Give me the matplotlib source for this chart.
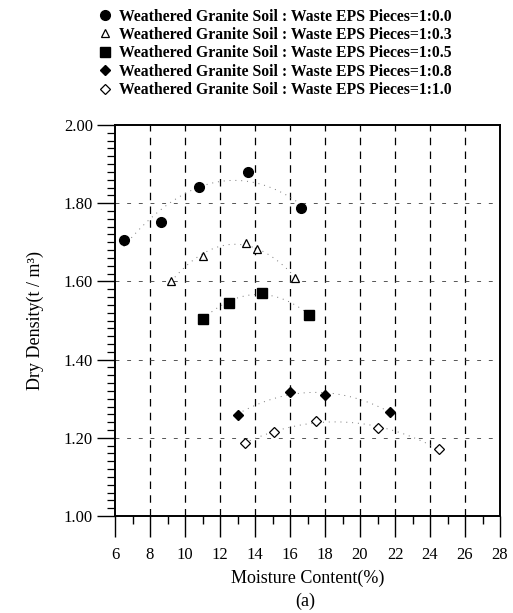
import numpy as np
import matplotlib
matplotlib.use("Agg")
import matplotlib.pyplot as plt
from matplotlib.ticker import MultipleLocator, FixedLocator

plt.rcParams['font.family'] = ['Liberation Serif', 'DejaVu Serif']

# Data (moisture content %, dry density t/m3)
x_00 = [6.5, 8.6, 10.8, 13.6, 16.6]
y_00 = [1.706, 1.752, 1.841, 1.880, 1.787]
x_03 = [9.2, 11.0, 13.5, 14.1, 16.3]
y_03 = [1.602, 1.665, 1.697, 1.683, 1.609]
x_05 = [11.0, 12.5, 14.4, 17.1]
y_05 = [1.505, 1.544, 1.570, 1.514]
x_08 = [13.0, 16.0, 18.0, 21.7]
y_08 = [1.259, 1.317, 1.309, 1.267]
x_10 = [13.4, 15.1, 17.5, 21.0, 24.5]
y_10 = [1.186, 1.214, 1.244, 1.224, 1.172]

labels = ["Weathered Granite Soil : Waste EPS Pieces=1:0.0",
          "Weathered Granite Soil : Waste EPS Pieces=1:0.3",
          "Weathered Granite Soil : Waste EPS Pieces=1:0.5",
          "Weathered Granite Soil : Waste EPS Pieces=1:0.8",
          "Weathered Granite Soil : Waste EPS Pieces=1:1.0"]
x_ticks = [6, 8, 10, 12, 14, 16, 18, 20, 22, 24, 26, 28]
y_ticks = [1.00, 1.20, 1.40, 1.60, 1.80, 2.00]

fig = plt.figure(figsize=(5.13, 6.13), dpi=100)
ax = fig.add_axes([115/513, 1-516/613, (500-115)/513, (516-125)/613])

ax.set_xlim(6, 28)
ax.set_ylim(1.0, 2.0)

# gridlines
for xv in x_ticks[1:-1]:
    ax.axvline(xv, color='black', lw=0.9, dashes=(6, 5), zorder=1)
for yv in y_ticks[1:-1]:
    ax.axhline(yv, color='#555555', lw=0.7, dashes=(4, 8), zorder=1)

series = [
    (x_00, y_00, dict(marker='o', color='black', ms=7, linestyle='none')),
    (x_03, y_03, dict(marker='^', color='black', ms=6, mfc='white', mew=0.9, linestyle='none')),
    (x_05, y_05, dict(marker='s', color='black', ms=6.5, linestyle='none')),
    (x_08, y_08, dict(marker='D', color='black', ms=5.5, linestyle='none')),
    (x_10, y_10, dict(marker='D', color='black', ms=5.5, mfc='white', mew=0.9, linestyle='none')),
]
handles = []
for (xs, ys, kw), lab in zip(series, labels):
    xs = np.array(xs); ys = np.array(ys)
    c = np.polyfit(xs, ys, 2)
    xx = np.linspace(xs.min(), xs.max(), 100)
    ax.plot(xx, np.polyval(c, xx), color='#777777', lw=0.7, dashes=(1, 5), zorder=2)
    h, = ax.plot(xs, ys, zorder=3, label=lab, **kw)
    handles.append(h)

ax.xaxis.set_major_locator(FixedLocator(x_ticks))
ax.xaxis.set_minor_locator(MultipleLocator(1))
ax.yaxis.set_major_locator(FixedLocator(y_ticks))
ax.yaxis.set_minor_locator(MultipleLocator(0.02))
ax.set_xticklabels([str(v) for v in x_ticks])
ax.set_yticklabels(["%.2f" % v for v in y_ticks])

ax.tick_params(axis='x', which='major', direction='out', length=15, width=1.0, labelsize=12, pad=7)
ax.tick_params(axis='x', which='minor', direction='out', length=6, width=1.0)
ax.tick_params(axis='y', which='major', direction='out', length=13, width=1.0, labelsize=12, pad=3)
ax.tick_params(axis='y', which='minor', direction='out', length=6, width=0.9)

for s in ax.spines.values():
    s.set_linewidth(1.4)

ax.set_xlabel("Moisture Content(%)", fontsize=13, labelpad=5)
ax.set_ylabel("Dry Density(t / m³)", fontsize=13, labelpad=14)
fig.text(0.595, 0.019, "(a)", ha='center', va='center', fontsize=13)

leg = fig.legend(handles=handles, labels=labels, loc='upper left',
                 bbox_to_anchor=(90/513, 1.0), frameon=False, fontsize=11.3,
                 handlelength=0.8, handletextpad=0.5, labelspacing=0.15,
                 borderaxespad=0.15)
for t in leg.get_texts():
    t.set_fontweight('bold')

fig.savefig("out.png", dpi=100)
